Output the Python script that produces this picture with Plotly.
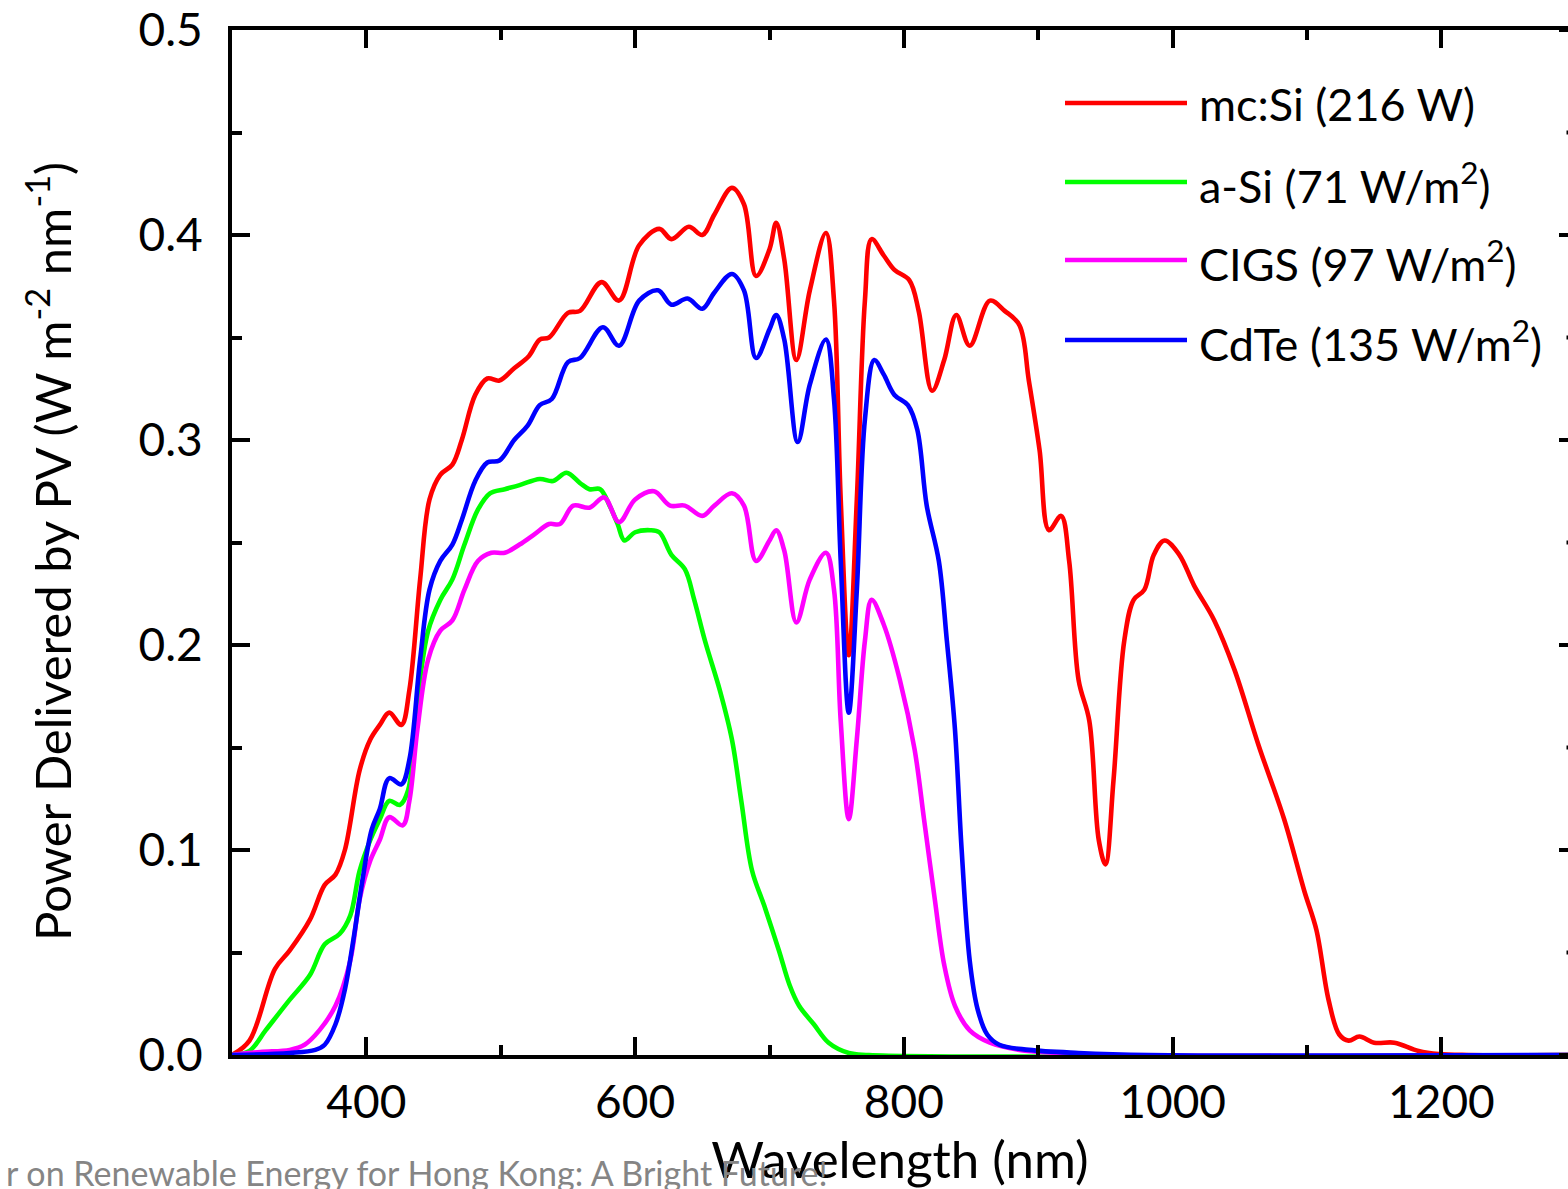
import plotly.graph_objects as go

# ---------------- data ----------------
wl_mcsi = [300, 313, 332, 343, 358, 369, 377, 384, 395, 403, 410, 417, 426, 432, 440, 447, 455, 464, 471, 481,
           490, 499, 510, 521, 529, 536, 550, 559, 575, 588, 603, 618, 627, 640, 650, 659, 672, 681, 690, 700,
           705, 711, 720, 730, 742, 748, 753, 759, 765, 771, 776, 785, 793, 804, 811, 821, 830, 839, 849, 864,
           875, 886, 893, 901, 908, 917, 923, 930, 938, 945, 950, 956, 964, 971, 979, 986, 994, 1005, 1016, 1031,
           1046, 1064, 1083, 1098, 1107, 1116, 1124, 1131, 1139, 1150, 1165, 1183, 1198, 1220, 1300]
p_mcsi = [0.0, 0.007, 0.042, 0.051, 0.066, 0.083, 0.088, 0.100, 0.139, 0.154, 0.161, 0.167, 0.161, 0.178, 0.232, 0.271, 0.283, 0.288, 0.300, 0.322,
          0.330, 0.329, 0.335, 0.341, 0.349, 0.350, 0.362, 0.363, 0.377, 0.368, 0.395, 0.403, 0.398, 0.404, 0.400, 0.410, 0.423, 0.415, 0.380, 0.393,
          0.406, 0.388, 0.339, 0.373, 0.401, 0.368, 0.271, 0.195, 0.271, 0.368, 0.398, 0.390, 0.383, 0.378, 0.363, 0.324, 0.339, 0.361, 0.346, 0.368,
          0.363, 0.356, 0.329, 0.295, 0.256, 0.263, 0.241, 0.183, 0.163, 0.105, 0.093, 0.134, 0.202, 0.222, 0.227, 0.244, 0.251, 0.244, 0.229, 0.212,
          0.188, 0.151, 0.115, 0.080, 0.061, 0.027, 0.010, 0.007, 0.009, 0.006, 0.006, 0.002, 0.0005, 0.0, 0.0]

wl_asi = [300, 313, 325, 343, 358, 369, 380, 388, 395, 403, 410, 417, 425, 431, 438, 446, 455, 464, 473, 483,
          492, 503, 514, 529, 539, 549, 559, 566, 574, 581, 587, 592, 600, 611, 618, 627, 637, 644, 652, 663,
          672, 679, 687, 696, 707, 715, 722, 733, 744, 759, 774, 1300]
p_asi = [0.0, 0.002, 0.012, 0.027, 0.039, 0.054, 0.059, 0.068, 0.090, 0.105, 0.115, 0.124, 0.122, 0.129, 0.173, 0.207, 0.222, 0.232, 0.249, 0.266,
         0.274, 0.276, 0.278, 0.281, 0.280, 0.284, 0.279, 0.276, 0.276, 0.268, 0.259, 0.251, 0.255, 0.256, 0.255, 0.244, 0.237, 0.222, 0.202, 0.178,
         0.154, 0.124, 0.090, 0.073, 0.051, 0.034, 0.024, 0.015, 0.006, 0.001, 0.0, 0.0]

wl_cigs = [300, 321, 343, 354, 365, 377, 388, 395, 403, 410, 417, 427, 432, 438, 446, 455, 464, 473, 483, 493,
           503, 514, 525, 536, 544, 554, 566, 577, 588, 600, 614, 626, 637, 650, 659, 672, 681, 690, 700, 705,
           711, 720, 730, 742, 748, 753, 759, 765, 771, 776, 785, 797, 808, 815, 823, 830, 838, 849, 864, 886,
           916, 945, 1300]
p_cigs = [0.0, 0.0015, 0.0025, 0.005, 0.012, 0.024, 0.046, 0.076, 0.095, 0.105, 0.116, 0.112, 0.124, 0.159, 0.193, 0.207, 0.212, 0.227, 0.241, 0.245,
          0.245, 0.249, 0.254, 0.259, 0.259, 0.268, 0.267, 0.272, 0.260, 0.271, 0.275, 0.268, 0.268, 0.263, 0.268, 0.274, 0.268, 0.241, 0.251, 0.256,
          0.246, 0.211, 0.232, 0.245, 0.227, 0.163, 0.115, 0.154, 0.202, 0.222, 0.210, 0.183, 0.149, 0.115, 0.076, 0.044, 0.024, 0.012, 0.006, 0.0025,
          0.001, 0.0, 0.0]

wl_cdte = [300, 343, 362, 369, 377, 384, 391, 397, 404, 410, 417, 426, 432, 440, 447, 455, 464, 471, 481, 490,
           499, 510, 520, 529, 538, 550, 559, 576, 588, 603, 617, 627, 639, 650, 659, 672, 681, 690, 700, 705,
           711, 721, 730, 742, 748, 753, 759, 765, 771, 778, 785, 793, 803, 810, 817, 826, 832, 838, 843, 849,
           855, 862, 871, 893, 930, 982, 1300]
p_cdte = [0.0, 0.001, 0.0025, 0.005, 0.015, 0.032, 0.059, 0.085, 0.110, 0.120, 0.135, 0.132, 0.144, 0.193, 0.227, 0.241, 0.249, 0.261, 0.280, 0.289,
          0.290, 0.300, 0.307, 0.317, 0.320, 0.338, 0.340, 0.355, 0.346, 0.368, 0.373, 0.366, 0.369, 0.364, 0.372, 0.381, 0.373, 0.340, 0.354, 0.361,
          0.349, 0.299, 0.327, 0.349, 0.320, 0.241, 0.167, 0.227, 0.310, 0.339, 0.332, 0.322, 0.317, 0.305, 0.268, 0.241, 0.202, 0.159, 0.100, 0.046,
          0.022, 0.010, 0.005, 0.0025, 0.001, 0.0, 0.0]

series_names = ["mc:Si (216 W)", "a-Si (71 W/m<sup>2</sup>)", "CIGS (97 W/m<sup>2</sup>)", "CdTe (135 W/m<sup>2</sup>)"]
series_colors = ["#ff0000", "#00ff00", "#ff00ff", "#0000ff"]
series_x = [wl_mcsi, wl_asi, wl_cigs, wl_cdte]
series_y = [p_mcsi, p_asi, p_cigs, p_cdte]

x_ticks = [400, 600, 800, 1000, 1200]
y_ticks = [0.0, 0.1, 0.2, 0.3, 0.4, 0.5]
y_tick_labels = ["0.0", "0.1", "0.2", "0.3", "0.4", "0.5"]

# ---------------- layout geometry (screenshot pixels) ----------------
W, H = 1568, 1189
L = 232
T = 30
B = H - 1055
PW, PH = W - L, H - T - B
PX_PER_NM = 1.34375
FONT = "Lato, 'Open Sans', sans-serif"


def px2paper_x(px):
    return (px - L) / PW


def px2paper_y(py):
    return (H - B - py) / PH


fig = go.Figure()
for name, color, xs, ys in zip(series_names, series_colors, series_x, series_y):
    fig.add_trace(go.Scatter(x=xs, y=ys, mode="lines", name=name,
                             line=dict(color=color, width=4.6, shape="spline", smoothing=1.0),
                             showlegend=False))

# manual legend (long sample lines like the reference)
leg_y = [103, 182, 260, 340]
shapes = []
annotations = []
for name, color, py in zip(series_names, series_colors, leg_y):
    shapes.append(dict(type="line", xref="paper", yref="paper",
                       x0=px2paper_x(1065), x1=px2paper_x(1187),
                       y0=px2paper_y(py), y1=px2paper_y(py),
                       line=dict(color=color, width=4.6)))
    annotations.append(dict(xref="paper", yref="paper", x=px2paper_x(1197), y=px2paper_y(py + 1),
                            text=name, showarrow=False, xanchor="left", yanchor="middle",
                            font=dict(family=FONT, size=45, color="black")))

# right-side inward ticks (the right axis line itself lies just past the image edge)
for i in range(11):
    v = i * 0.05
    major = (i % 2 == 0)
    ln = 9 if major else 1.5
    shapes.append(dict(type="line", xref="paper", yref="y",
                       x0=1 - ln / PW, x1=1.0, y0=v, y1=v,
                       line=dict(color="black", width=4)))

# y-axis title (placed as a rotated annotation for exact positioning)
annotations.append(dict(xref="paper", yref="paper", x=px2paper_x(48), y=px2paper_y(552),
                        text="Power Delivered by PV (W m<sup>-2</sup> nm<sup>-1</sup>)",
                        textangle=-90, showarrow=False, xanchor="center", yanchor="middle",
                        font=dict(family=FONT, size=49, color="black")))

# watermark text at bottom-left
annotations.append(dict(xref="paper", yref="paper", x=px2paper_x(4), y=px2paper_y(1172),
                        text="r on Renewable Energy for Hong Kong: A Bright Future!",
                        showarrow=False, xanchor="left", yanchor="middle",
                        font=dict(family=FONT, size=34, color="#858585")))

fig.update_layout(
    width=W, height=H,
    margin=dict(l=L, r=0, t=T, b=B, pad=0),
    paper_bgcolor="white", plot_bgcolor="white",
    font=dict(family=FONT, color="black"),
    shapes=shapes, annotations=annotations,
    xaxis=dict(range=[300, 300 + PW / PX_PER_NM], tickvals=x_ticks, ticktext=[str(v) for v in x_ticks],
               ticks="inside", ticklen=18, tickwidth=4, tickcolor="black",
               minor=dict(dtick=100, tick0=300, ticks="inside", ticklen=10, tickwidth=4, tickcolor="black"),
               showline=True, linewidth=4, linecolor="black", mirror="ticks",
               showgrid=False, zeroline=False, ticklabelstandoff=4, ticklabeloverflow="allow",
               tickfont=dict(family=FONT, size=46, color="black"),
               title=dict(text="Wavelength (nm)", font=dict(family=FONT, size=51, color="black"), standoff=8)),
    yaxis=dict(range=[0, 0.5], tickvals=y_ticks, ticktext=y_tick_labels,
               ticks="inside", ticklen=18, tickwidth=4, tickcolor="black",
               minor=dict(dtick=0.05, ticks="inside", ticklen=10, tickwidth=4, tickcolor="black"),
               showline=True, linewidth=4, linecolor="black",
               showgrid=False, zeroline=False, ticklabelstandoff=16, ticklabeloverflow="allow",
               tickfont=dict(family=FONT, size=46, color="black")),
)

fig.write_html("out.html", config={"displayModeBar": False},
               post_script="document.body.style.margin='0';document.body.style.overflow='hidden';")
